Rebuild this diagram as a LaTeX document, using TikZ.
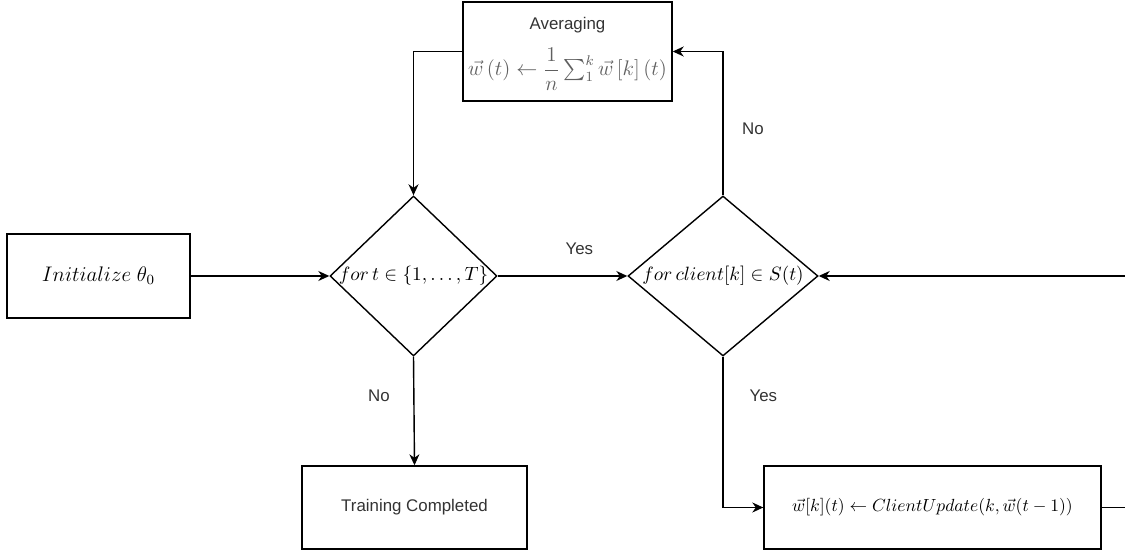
\documentclass[tikz,border=0pt]{standalone}
\usepackage[no-math]{fontspec}
\usepackage{amsmath}
\usetikzlibrary{arrows.meta,shapes.geometric,positioning}
\newfontfamily\drawiofont{Liberation Sans}
\definecolor{labelgray}{RGB}{51,51,51}
\definecolor{formulagray}{RGB}{95,95,95}

\begin{document}
\begin{tikzpicture}[
		every node/.style={font=\drawiofont\fontsize{9.6}{11.5}\selectfont, text=labelgray},
		mathtext/.style={font=\fontsize{#1}{14}\selectfont, text=black},
		mathtext/.default=12,
		process/.style={draw, line width=0.8pt, inner sep=0pt, align=center, minimum height=1.66cm},
		decision/.style={draw, diamond, line width=0.8pt, inner sep=0pt, minimum height=3.2cm},
		flow/.style={line width=0.8pt, -{Stealth[length=2.2mm,width=2mm,inset=0.7mm]}},
		wire/.style={line width=0.8pt}]
		\useasboundingbox (0,0) rectangle (22.5,-11.04);
		
		% boxes
		\node[process, minimum width=4.18cm, minimum height=1.98cm] (avg) at (11.35,-1.03) {};
		\node[inner sep=1pt] (avgtitle) at (11.35,-0.5) {Averaging};
		\node[mathtext, text=formulagray, inner sep=0pt] (avgrule) at (11.35,-1.38)
			{$\vec{w}\left(t\right)\leftarrow\dfrac{1}{n}\sum_{1}^{k}\vec{w}\left[k\right]\left(t\right)$};
		
		\node[process, minimum width=3.66cm, minimum height=1.68cm, mathtext] (init) at (1.97,-5.52)
			{$Initialize\;\theta_0$};
		
		\node[process, minimum width=4.5cm] (done) at (8.29,-10.15) {Training Completed};
		\node[process, minimum width=6.74cm, mathtext=10.2] (update) at (18.65,-10.15)
			{$\vec{w}[k](t)\leftarrow ClientUpdate(k,\vec{w}(t-1))$};
		
		% decisions
		\node[decision, minimum width=3.34cm, mathtext=11.3] (loop) at (8.27,-5.52)
			{\makebox[0pt]{$for\,t\in\{1,\ldots,T\}$}};
		\node[decision, minimum width=3.8cm, mathtext=10.6] (clients) at (14.46,-5.52)
			{\makebox[0pt]{$for\,client[k]\in S(t)$}};
		
		% open ends at the right border
		\coordinate (inclients) at (22.5,-5.52);
		\coordinate (outupdate) at (22.5,-10.15);
		
		% connectors
		\draw[flow] (init.east) -- (loop.west);
		\draw[flow] (avg.west) -| (loop.north);
		\draw[flow] (loop.east) -- node[pos=0.63, above=3mm] (yesloop) {Yes} (clients.west);
		\draw[flow] (loop.south) -- node[pos=0.36, left=3.5mm] (noloop) {No} (done.north);
		\draw[flow] (clients.north) |- node[pos=0.23, right=2.5mm] (noclients) {No} (avg.east);
		\draw[flow] (clients.south) |- node[pos=0.13, right=4mm] (yesclients) {Yes} (update.west);
		\draw[flow] (inclients) -- (clients.east);
		\draw[wire] (update.east) -- (outupdate);
	\end{tikzpicture}
\end{document}
